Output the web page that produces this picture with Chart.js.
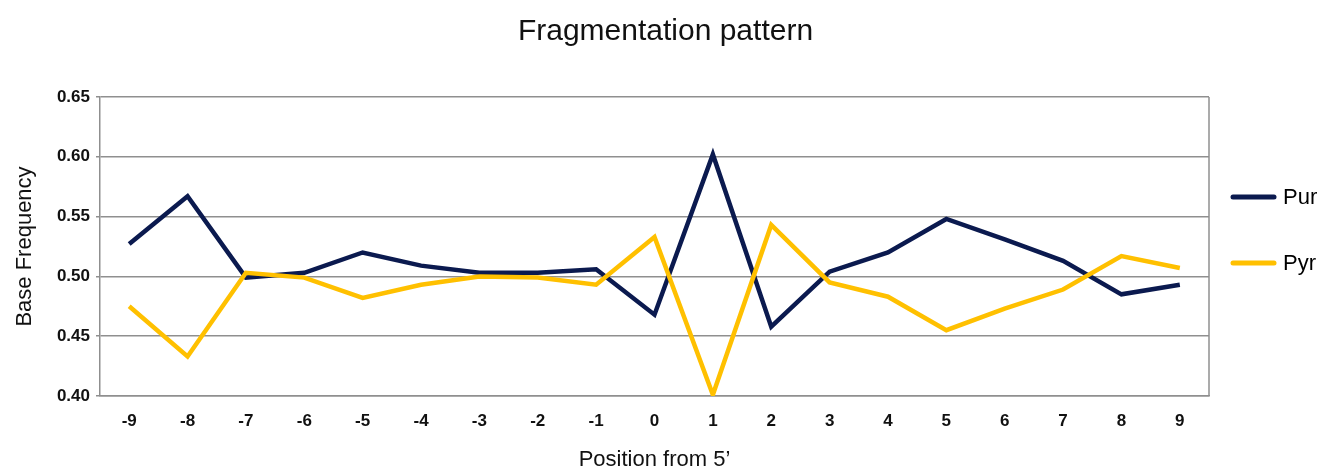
<!DOCTYPE html>
<html>
<head>
<meta charset="utf-8">
<script src="https://cdn.jsdelivr.net/npm/chart.js@4"></script>
<style>
    html, body { margin: 0; padding: 0; background: #fff; }
    #wrap { width: 1331px; height: 473px; }
</style>
</head>
<body>
<div id="wrap"><canvas id="fragChart"></canvas></div>
<script>
// ===== Datos =====
const positions = ['-9', '-8', '-7', '-6', '-5', '-4', '-3', '-2', '-1', '0',
                   '1', '2', '3', '4', '5', '6', '7', '8', '9'];
const purValues = [0.527, 0.567, 0.499, 0.503, 0.520, 0.509, 0.503, 0.503, 0.506, 0.468,
                   0.602, 0.458, 0.504, 0.520, 0.548, 0.531, 0.513, 0.485, 0.493];
const pyrValues = [0.475, 0.433, 0.503, 0.499, 0.482, 0.493, 0.500, 0.499, 0.493, 0.533,
                   0.401, 0.543, 0.495, 0.483, 0.455, 0.473, 0.489, 0.517, 0.507];
const yTicks = [0.40, 0.45, 0.50, 0.55, 0.60, 0.65];

const NAVY = '#0b1a4f';
const GOLD = '#ffc000';
const GRID = '#8f8f8f';
const FONT = "'Liberation Sans', Arial, sans-serif";

// Marco derecho del área de trazado
const frameRight = {
    id: 'frameRight',
    afterDraw(chart) {
        const { ctx, chartArea: a } = chart;
        ctx.save();
        ctx.strokeStyle = GRID;
        ctx.lineWidth = 1.5;
        ctx.beginPath();
        ctx.moveTo(a.right, a.top);
        ctx.lineTo(a.right, a.bottom);
        ctx.stroke();
        ctx.restore();
    }
};

// Leyenda a la derecha
const sideLegend = {
    id: 'sideLegend',
    afterDraw(chart) {
        const { ctx } = chart;
        const rows = [197, 263];
        ctx.save();
        chart.data.datasets.forEach((ds, i) => {
            const y = rows[i];
            ctx.strokeStyle = ds.borderColor;
            ctx.lineWidth = 5;
            ctx.lineCap = 'round';
            ctx.beginPath();
            ctx.moveTo(1233, y);
            ctx.lineTo(1274, y);
            ctx.stroke();
            ctx.fillStyle = '#000';
            ctx.font = '22px ' + FONT;
            ctx.textBaseline = 'middle';
            ctx.fillText(ds.label, 1283, y + 1);
        });
        ctx.restore();
    }
};

new Chart(document.getElementById('fragChart'), {
    type: 'line',
    data: {
        labels: positions,
        datasets: [
            {
                label: 'Pur',
                data: purValues,
                borderColor: NAVY,
                borderWidth: 4.5,
                pointRadius: 0,
                tension: 0,
                order: 1
            },
            {
                label: 'Pyr',
                data: pyrValues,
                borderColor: GOLD,
                borderWidth: 4.5,
                pointRadius: 0,
                tension: 0,
                order: 0
            }
        ]
    },
    options: {
        responsive: true,
        maintainAspectRatio: false,
        animation: false,
        layout: {
            padding: 0
        },
        plugins: {
            legend: { display: false },
            tooltip: { enabled: false },
            title: {
                display: true,
                text: 'Fragmentation pattern',
                color: '#111',
                font: { family: FONT, size: 30, weight: 'normal' },
                padding: { top: 14, bottom: 47 }
            }
        },
        scales: {
            x: {
                offset: true,
                grid: { display: false, drawTicks: false },
                border: { display: true, color: GRID, width: 1.5 },
                ticks: {
                    color: '#111',
                    padding: 15,
                    autoSkip: false,
                    maxRotation: 0,
                    font: { family: FONT, size: 17, weight: 'bold' }
                },
                title: {
                    display: true,
                    text: 'Position from 5\u2019',
                    color: '#111',
                    font: { family: FONT, size: 22 },
                    padding: { top: 0, bottom: 0 }
                },
                afterFit(scale) { scale.height = 77; }
            },
            y: {
                min: 0.40,
                max: 0.65,
                afterBuildTicks(scale) {
                    scale.ticks = yTicks.map(v => ({ value: v }));
                },
                grid: {
                    color: GRID,
                    lineWidth: 1.5,
                    drawTicks: true,
                    tickLength: 4
                },
                border: { display: true, color: GRID, width: 1.5 },
                ticks: {
                    color: '#111',
                    padding: 6,
                    font: { family: FONT, size: 17, weight: 'bold' },
                    callback: v => Number(v).toFixed(2)
                },
                title: {
                    display: true,
                    text: 'Base Frequency',
                    color: '#111',
                    font: { family: FONT, size: 22 },
                    padding: { top: 12, bottom: 0 }
                },
                afterFit(scale) { scale.width = 100; }
            },
            // eje vacío a la derecha: deja sitio a la leyenda
            yRight: {
                position: 'right',
                min: 0.40,
                max: 0.65,
                grid: { display: false, drawTicks: false },
                border: { display: false },
                ticks: { display: false },
                afterFit(scale) { scale.width = 122; }
            }
        }
    },
    plugins: [frameRight, sideLegend]
});
</script>
</body>
</html>
